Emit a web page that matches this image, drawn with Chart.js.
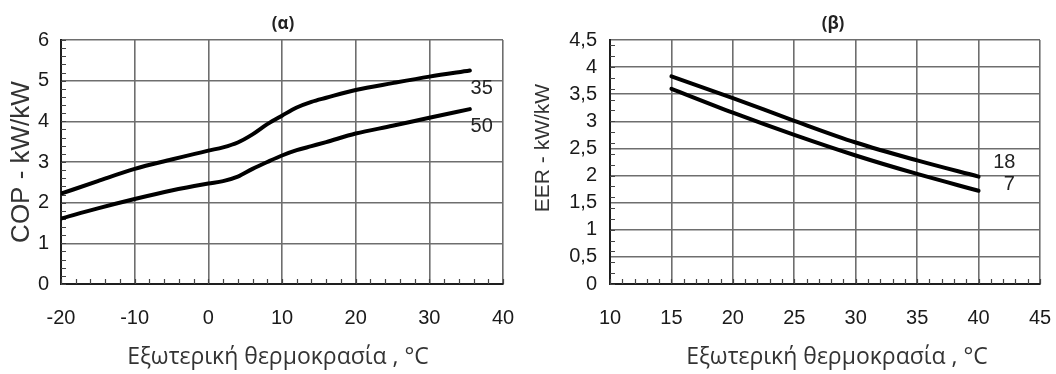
<!DOCTYPE html>
<html>
<head>
<meta charset="utf-8">
<script src="https://cdn.jsdelivr.net/npm/chart.js@4.4.1/dist/chart.umd.min.js"></script>
<style>
  html, body { margin: 0; padding: 0; background: #ffffff; }
  #wrap { position: relative; width: 1056px; height: 374px; overflow: hidden; background: #fff; }
  .box { position: absolute; top: 0; width: 528px; height: 374px; }
  #boxA { left: 0; }
  #boxB { left: 528px; }
</style>
</head>
<body>
<div id="wrap">
  <div class="box" id="boxA"><canvas id="chartA" width="528" height="374"></canvas></div>
  <div class="box" id="boxB"><canvas id="chartB" width="528" height="374"></canvas></div>
</div>
<script>
// ---------- DATA ----------
// (α) Heating: COP vs outdoor temperature, for water temperatures 35 and 50 °C
const heatTemps = [-20, -15, -10, -5, 0, 2, 4, 6, 8, 10, 12, 14, 16, 20, 25, 30, 35.5];
const cop35     = [2.22, 2.53, 2.83, 3.06, 3.28, 3.36, 3.48, 3.68, 3.93, 4.14, 4.34, 4.48, 4.58, 4.77, 4.94, 5.10, 5.25];
const cop50     = [1.61, 1.86, 2.09, 2.30, 2.47, 2.53, 2.64, 2.83, 3.00, 3.16, 3.29, 3.39, 3.49, 3.70, 3.89, 4.09, 4.30];
const heatSeriesNames = ['35', '50'];

// (β) Cooling: EER vs outdoor temperature, for water temperatures 18 and 7 °C
const coolTemps = [15, 20, 25, 30, 35, 40];
const eer18     = [3.83, 3.43, 3.01, 2.61, 2.28, 1.98];
const eer7      = [3.60, 3.16, 2.75, 2.37, 2.03, 1.72];
const coolSeriesNames = ['18', '7'];

// Axis tick values
const heatXTicks = [-20, -10, 0, 10, 20, 30, 40];
const heatYTicks = [0, 1, 2, 3, 4, 5, 6];
const coolXTicks = [10, 15, 20, 25, 30, 35, 40, 45];
const coolYTicks = [0, 0.5, 1, 1.5, 2, 2.5, 3, 3.5, 4, 4.5];

// Texts
const titleA = '(α)';
const titleB = '(β)';
const xTitle = 'Εξωτερική θερμοκρασία , °C';
const yTitleA = 'COP - kW/kW';
const yTitleB = 'EER - kW/kW';

// ---------- HELPERS ----------
const pts = (xs, ys) => xs.map((x, i) => ({ x: x, y: ys[i] }));
const TICK_FONT = { family: "'Liberation Sans', Arial, sans-serif", size: 20 };
const GRID_COLOR = '#6e6e6e';
const AXIS_COLOR = '#1e1e1e';

// minor ticks, curve-end labels and titles, positioned from the chart's scales / chart area
const decorPlugin = {
  id: 'decor',
  beforeDatasetsDraw(chart, args, o) {
    const { ctx, chartArea: a, scales: { x, y } } = chart;
    ctx.save();
    ctx.strokeStyle = '#444';
    ctx.lineWidth = 1.2;
    ctx.beginPath();
    for (let v = x.min; v <= x.max + 1e-9; v += o.xMinor) {
      const px = Math.round(x.getPixelForValue(v)) + 0.5;
      ctx.moveTo(px, a.bottom); ctx.lineTo(px, a.bottom - o.len);
    }
    for (let v = y.min; v <= y.max + 1e-9; v += o.yMinor) {
      const py = Math.round(y.getPixelForValue(v)) + 0.5;
      ctx.moveTo(a.left, py); ctx.lineTo(a.left + o.len, py);
    }
    ctx.stroke();
    ctx.restore();
  },
  afterDatasetsDraw(chart, args, o) {
    const { ctx, chartArea: a, scales: { x, y } } = chart;
    const cx = (a.left + a.right) / 2, cy = (a.top + a.bottom) / 2;
    ctx.save();
    ctx.textAlign = 'center';
    ctx.textBaseline = 'middle';
    // curve-end labels
    ctx.fillStyle = '#222';
    ctx.font = "20px 'Liberation Sans', Arial, sans-serif";
    (o.labels || []).forEach(l => {
      ctx.fillText(l.text, x.getPixelForValue(l.x), y.getPixelForValue(l.y));
    });
    // chart title
    ctx.fillStyle = '#222';
    ctx.font = "bold 17px 'Open Sans', sans-serif";
    ctx.fillText(o.title, cx + o.titleDx, a.top - 16);
    // x-axis title
    ctx.fillStyle = '#333';
    ctx.font = "23px 'Open Sans', sans-serif";
    ctx.fillText(o.xTitle, cx + o.xTitleDx, a.bottom + 73);
    // y-axis title
    ctx.font = o.yTitleSize + "px 'Liberation Sans', Arial, sans-serif";
    ctx.translate(o.yTitleX, cy + o.yTitleDy);
    ctx.rotate(-Math.PI / 2);
    ctx.fillText(o.yTitle, 0, 0);
    ctx.restore();
  }
};

function makeChart(canvasId, cfg) {
  const ds = cfg.series.map((s, i) => ({
    label: cfg.names[i],
    data: pts(cfg.xs, s),
    borderColor: '#000',
    borderWidth: 4,
    pointRadius: 0,
    fill: false,
    tension: 0.4,
    cubicInterpolationMode: 'monotone',
    borderCapStyle: 'round'
  }));
  return new Chart(document.getElementById(canvasId), {
    type: 'line',
    data: { datasets: ds },
    plugins: [decorPlugin],
    options: {
      responsive: false,
      animation: false,
      layout: { padding: { left: 0, right: cfg.padRight, top: 40, bottom: 0 } },
      plugins: {
        legend: { display: false },
        tooltip: { enabled: false },
        title: { display: false },
        decor: {
          xMinor: cfg.xMinor, yMinor: cfg.yMinor, len: 5, labels: cfg.endLabels,
          title: cfg.title, titleDx: cfg.titleDx,
          xTitle: xTitle, xTitleDx: cfg.xTitleDx,
          yTitle: cfg.yTitle, yTitleSize: cfg.yTitleSize, yTitleX: cfg.yTitleX, yTitleDy: cfg.yTitleDy
        }
      },
      scales: {
        x: {
          type: 'linear',
          min: cfg.xTicks[0], max: cfg.xTicks[cfg.xTicks.length - 1],
          afterBuildTicks: s => { s.ticks = cfg.xTicks.map(v => ({ value: v })); },
          afterFit: s => { s.height = 90; },
          grid: { color: GRID_COLOR, lineWidth: 1.6, drawTicks: true, tickLength: 22, tickColor: 'rgba(0,0,0,0)' },
          border: { display: true, color: AXIS_COLOR, width: 2 },
          ticks: { font: TICK_FONT, color: '#1a1a1a', padding: 0, maxRotation: 0, autoSkip: false }
        },
        y: {
          type: 'linear',
          min: cfg.yTicks[0], max: cfg.yTicks[cfg.yTicks.length - 1],
          afterBuildTicks: s => { s.ticks = cfg.yTicks.map(v => ({ value: v })); },
          afterFit: s => { s.width = cfg.yAxisWidth; },
          grid: { color: GRID_COLOR, lineWidth: 1.6, drawTicks: false },
          border: { display: true, color: AXIS_COLOR, width: 2 },
          ticks: {
            font: TICK_FONT, color: '#1a1a1a', padding: cfg.yTickPad, autoSkip: false,
            callback: v => String(v).replace('.', ',')
          }
        }
      }
    }
  });
}

makeChart('chartA', {
  xs: heatTemps, series: [cop35, cop50], names: heatSeriesNames,
  xTicks: heatXTicks, yTicks: heatYTicks, xMinor: 2, yMinor: 0.2,
  title: titleA, titleDx: 1, xTitleDx: -4,
  yTitle: yTitleA, yTitleSize: 26, yTitleX: 22, yTitleDy: 0,
  yAxisWidth: 61, yTickPad: 12, padRight: 25,
  endLabels: [ { text: heatSeriesNames[0], x: 37.1, y: 4.8 }, { text: heatSeriesNames[1], x: 37.1, y: 3.88 } ]
});

makeChart('chartB', {
  xs: coolTemps, series: [eer18, eer7], names: coolSeriesNames,
  xTicks: coolXTicks, yTicks: coolYTicks, xMinor: 1, yMinor: 0.2,
  title: titleB, titleDx: 8, xTitleDx: 12,
  yTitle: yTitleB, yTitleSize: 21, yTitleX: 15, yTitleDy: -14,
  yAxisWidth: 82, yTickPad: 13, padRight: 16,
  endLabels: [ { text: coolSeriesNames[0], x: 42.1, y: 2.25 }, { text: coolSeriesNames[1], x: 42.5, y: 1.83 } ]
});
</script>
</body>
</html>
